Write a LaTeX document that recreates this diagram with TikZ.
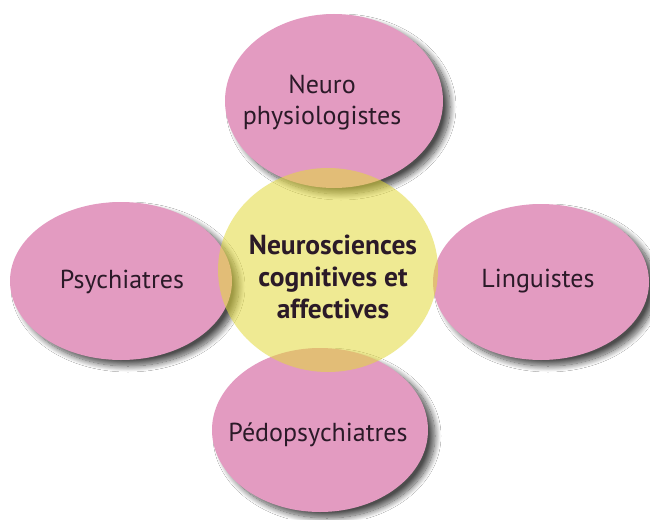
\documentclass[tikz,border=0pt]{standalone}
\usepackage{fontspec}
\setmainfont{PT Sans}
\usetikzlibrary{shapes.geometric,shadows.blur}
\definecolor{petal}{RGB}{227,155,193}
\definecolor{core}{RGB}{226,217,60}
\definecolor{ink}{RGB}{43,26,40}
\tikzset{
  petal/.style={ellipse, fill=petal, draw=none, inner sep=0pt,
    blur shadow={shadow xshift=7pt, shadow yshift=-6pt, shadow blur steps=14,
      shadow blur radius=6pt, shadow opacity=70}},
  corebox/.style={ellipse, fill=core, fill opacity=0.55, draw=none, inner sep=0pt},
  petaltext/.style={align=center, text=ink, inner sep=0pt,
    font=\fontsize{26}{31}\selectfont},
  coretext/.style={align=center, text=ink, inner sep=0pt,
    font=\bfseries\fontsize{27.5}{32}\selectfont}
}
\begin{document}
\begin{tikzpicture}[x=1pt,y=-1pt]
  \useasboundingbox (0,0) rectangle (650,519);
  \fill[white] (0,0) rectangle (650,519);
  % outer disciplines
  \node[petal, minimum width=218pt, minimum height=174pt] (neuro) at (334,101) {};
  \node[petal, minimum width=222pt, minimum height=158pt] (psy) at (121,281) {};
  \node[petal, minimum width=216pt, minimum height=156pt] (ling) at (541,282) {};
  \node[petal, minimum width=216pt, minimum height=164pt] (pedo) at (320,430) {};
  % translucent centre
  \node[corebox, minimum width=220pt, minimum height=204pt] (centre) at (328,270) {};
  % labels
  \node[petaltext] (neurotxt) at (322,103) {Neuro\\physiologistes};
  \node[petaltext] (psytxt) at (122,282) {Psychiatres};
  \node[petaltext] (lingtxt) at (538,281) {Linguistes};
  \node[petaltext] (pedotxt) at (318,435) {Pédopsychiatres};
  \node[coretext] (centretxt) at (333,277) {Neurosciences\\cognitives et\\affectives};
\end{tikzpicture}
\end{document}
